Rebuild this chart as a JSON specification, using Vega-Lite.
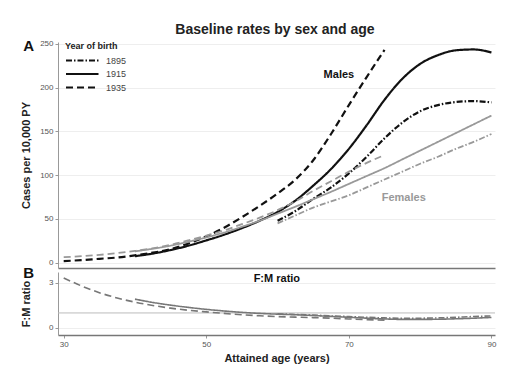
{
  "$schema": "https://vega.github.io/schema/vega-lite/v6.json",
  "padding": {"left": 20, "top": 22, "right": 5, "bottom": 5},
  "background": "white",
  "title": {"text": "Baseline rates by sex and age", "fontSize": 14, "font": "Liberation Sans", "fontWeight": "bold", "color": "#222", "anchor": "middle", "offset": 2, "dx": 17},
  "config": {
    "view": {"stroke": null},
    "font": "Liberation Sans",
    "axis": {"labelFontSize": 8, "labelColor": "#555", "tickColor": "#999", "tickSize": 3, "domainColor": "#999", "titleFontSize": 11, "titleFontWeight": "bold", "titleColor": "#222", "gridColor": "#eee", "labelPadding": 2, "titlePadding": 8, "labelFont": "Liberation Sans", "titleFont": "Liberation Sans"}
  },
  "bounds": "flush",
  "spacing": 4,
  "datasets": {
    "rates": [
      {"sex":"Males","cohort":"1935","age":30,"value":1.9},
      {"sex":"Males","cohort":"1935","age":32.5,"value":3},
      {"sex":"Males","cohort":"1935","age":35,"value":4.5},
      {"sex":"Males","cohort":"1935","age":37.5,"value":6},
      {"sex":"Males","cohort":"1935","age":40,"value":8.5},
      {"sex":"Males","cohort":"1935","age":42.5,"value":11.5},
      {"sex":"Males","cohort":"1935","age":45,"value":15.5},
      {"sex":"Males","cohort":"1935","age":47.5,"value":22},
      {"sex":"Males","cohort":"1935","age":50,"value":30},
      {"sex":"Males","cohort":"1935","age":52.5,"value":40},
      {"sex":"Males","cohort":"1935","age":55,"value":52},
      {"sex":"Males","cohort":"1935","age":57.5,"value":65},
      {"sex":"Males","cohort":"1935","age":60,"value":79},
      {"sex":"Males","cohort":"1935","age":62.5,"value":95},
      {"sex":"Males","cohort":"1935","age":65,"value":117},
      {"sex":"Males","cohort":"1935","age":67.5,"value":147},
      {"sex":"Males","cohort":"1935","age":70,"value":180},
      {"sex":"Males","cohort":"1935","age":72.5,"value":212},
      {"sex":"Males","cohort":"1935","age":75,"value":243},
      {"sex":"Males","cohort":"1915","age":40,"value":7.5},
      {"sex":"Males","cohort":"1915","age":42.5,"value":10.5},
      {"sex":"Males","cohort":"1915","age":45,"value":14.5},
      {"sex":"Males","cohort":"1915","age":47.5,"value":19.5},
      {"sex":"Males","cohort":"1915","age":50,"value":25.5},
      {"sex":"Males","cohort":"1915","age":52.5,"value":32},
      {"sex":"Males","cohort":"1915","age":55,"value":39.5},
      {"sex":"Males","cohort":"1915","age":57.5,"value":48},
      {"sex":"Males","cohort":"1915","age":60,"value":58},
      {"sex":"Males","cohort":"1915","age":62.5,"value":71},
      {"sex":"Males","cohort":"1915","age":65,"value":88},
      {"sex":"Males","cohort":"1915","age":67.5,"value":107},
      {"sex":"Males","cohort":"1915","age":70,"value":130},
      {"sex":"Males","cohort":"1915","age":72.5,"value":157},
      {"sex":"Males","cohort":"1915","age":75,"value":186},
      {"sex":"Males","cohort":"1915","age":77.5,"value":210},
      {"sex":"Males","cohort":"1915","age":80,"value":227},
      {"sex":"Males","cohort":"1915","age":82.5,"value":237},
      {"sex":"Males","cohort":"1915","age":85,"value":242.5},
      {"sex":"Males","cohort":"1915","age":87.5,"value":243.5},
      {"sex":"Males","cohort":"1915","age":90,"value":240},
      {"sex":"Males","cohort":"1895","age":60,"value":48},
      {"sex":"Males","cohort":"1895","age":62.5,"value":59},
      {"sex":"Males","cohort":"1895","age":65,"value":73},
      {"sex":"Males","cohort":"1895","age":67.5,"value":86},
      {"sex":"Males","cohort":"1895","age":70,"value":102},
      {"sex":"Males","cohort":"1895","age":72.5,"value":121},
      {"sex":"Males","cohort":"1895","age":75,"value":142},
      {"sex":"Males","cohort":"1895","age":77.5,"value":160},
      {"sex":"Males","cohort":"1895","age":80,"value":173},
      {"sex":"Males","cohort":"1895","age":82.5,"value":180},
      {"sex":"Males","cohort":"1895","age":85,"value":183.5},
      {"sex":"Males","cohort":"1895","age":87.5,"value":184.5},
      {"sex":"Males","cohort":"1895","age":90,"value":183},
      {"sex":"Females","cohort":"1935","age":30,"value":6.3},
      {"sex":"Females","cohort":"1935","age":32.5,"value":7.5},
      {"sex":"Females","cohort":"1935","age":35,"value":9},
      {"sex":"Females","cohort":"1935","age":37.5,"value":11},
      {"sex":"Females","cohort":"1935","age":40,"value":13.5},
      {"sex":"Females","cohort":"1935","age":42.5,"value":16.5},
      {"sex":"Females","cohort":"1935","age":45,"value":20.5},
      {"sex":"Females","cohort":"1935","age":47.5,"value":25.5},
      {"sex":"Females","cohort":"1935","age":50,"value":31},
      {"sex":"Females","cohort":"1935","age":52.5,"value":37},
      {"sex":"Females","cohort":"1935","age":55,"value":44},
      {"sex":"Females","cohort":"1935","age":57.5,"value":51.5},
      {"sex":"Females","cohort":"1935","age":60,"value":60},
      {"sex":"Females","cohort":"1935","age":62.5,"value":70},
      {"sex":"Females","cohort":"1935","age":65,"value":82},
      {"sex":"Females","cohort":"1935","age":67.5,"value":93},
      {"sex":"Females","cohort":"1935","age":70,"value":104},
      {"sex":"Females","cohort":"1935","age":72.5,"value":114},
      {"sex":"Females","cohort":"1935","age":75,"value":123},
      {"sex":"Females","cohort":"1915","age":40,"value":13},
      {"sex":"Females","cohort":"1915","age":42.5,"value":16},
      {"sex":"Females","cohort":"1915","age":45,"value":19.5},
      {"sex":"Females","cohort":"1915","age":47.5,"value":24},
      {"sex":"Females","cohort":"1915","age":50,"value":29},
      {"sex":"Females","cohort":"1915","age":52.5,"value":34.5},
      {"sex":"Females","cohort":"1915","age":55,"value":41},
      {"sex":"Females","cohort":"1915","age":57.5,"value":48},
      {"sex":"Females","cohort":"1915","age":60,"value":56},
      {"sex":"Females","cohort":"1915","age":62.5,"value":64},
      {"sex":"Females","cohort":"1915","age":65,"value":72.5},
      {"sex":"Females","cohort":"1915","age":67.5,"value":81},
      {"sex":"Females","cohort":"1915","age":70,"value":90},
      {"sex":"Females","cohort":"1915","age":72.5,"value":99},
      {"sex":"Females","cohort":"1915","age":75,"value":108},
      {"sex":"Females","cohort":"1915","age":77.5,"value":118},
      {"sex":"Females","cohort":"1915","age":80,"value":128},
      {"sex":"Females","cohort":"1915","age":82.5,"value":138},
      {"sex":"Females","cohort":"1915","age":85,"value":148},
      {"sex":"Females","cohort":"1915","age":87.5,"value":158},
      {"sex":"Females","cohort":"1915","age":90,"value":168},
      {"sex":"Females","cohort":"1895","age":60,"value":45},
      {"sex":"Females","cohort":"1895","age":62.5,"value":54},
      {"sex":"Females","cohort":"1895","age":65,"value":63},
      {"sex":"Females","cohort":"1895","age":67.5,"value":70},
      {"sex":"Females","cohort":"1895","age":70,"value":77},
      {"sex":"Females","cohort":"1895","age":72.5,"value":86},
      {"sex":"Females","cohort":"1895","age":75,"value":95},
      {"sex":"Females","cohort":"1895","age":77.5,"value":104},
      {"sex":"Females","cohort":"1895","age":80,"value":113},
      {"sex":"Females","cohort":"1895","age":82.5,"value":121},
      {"sex":"Females","cohort":"1895","age":85,"value":130},
      {"sex":"Females","cohort":"1895","age":87.5,"value":138},
      {"sex":"Females","cohort":"1895","age":90,"value":147}
    ],
    "ratio": [
      {"cohort":"1935","age":30,"value":3.33},
      {"cohort":"1935","age":32.5,"value":2.8},
      {"cohort":"1935","age":35,"value":2.35},
      {"cohort":"1935","age":37.5,"value":2.0},
      {"cohort":"1935","age":40,"value":1.72},
      {"cohort":"1935","age":42.5,"value":1.5},
      {"cohort":"1935","age":45,"value":1.32},
      {"cohort":"1935","age":47.5,"value":1.18},
      {"cohort":"1935","age":50,"value":1.07},
      {"cohort":"1935","age":52.5,"value":0.97},
      {"cohort":"1935","age":55,"value":0.88},
      {"cohort":"1935","age":57.5,"value":0.81},
      {"cohort":"1935","age":60,"value":0.76},
      {"cohort":"1935","age":62.5,"value":0.72},
      {"cohort":"1935","age":65,"value":0.69},
      {"cohort":"1935","age":67.5,"value":0.65},
      {"cohort":"1935","age":70,"value":0.6},
      {"cohort":"1935","age":72.5,"value":0.55},
      {"cohort":"1935","age":75,"value":0.52},
      {"cohort":"1915","age":40,"value":1.92},
      {"cohort":"1915","age":42.5,"value":1.7},
      {"cohort":"1915","age":45,"value":1.52},
      {"cohort":"1915","age":47.5,"value":1.37},
      {"cohort":"1915","age":50,"value":1.24},
      {"cohort":"1915","age":52.5,"value":1.13},
      {"cohort":"1915","age":55,"value":1.04},
      {"cohort":"1915","age":57.5,"value":0.97},
      {"cohort":"1915","age":60,"value":0.92},
      {"cohort":"1915","age":62.5,"value":0.88},
      {"cohort":"1915","age":65,"value":0.83},
      {"cohort":"1915","age":67.5,"value":0.77},
      {"cohort":"1915","age":70,"value":0.71},
      {"cohort":"1915","age":72.5,"value":0.65},
      {"cohort":"1915","age":75,"value":0.6},
      {"cohort":"1915","age":77.5,"value":0.57},
      {"cohort":"1915","age":80,"value":0.57},
      {"cohort":"1915","age":82.5,"value":0.58},
      {"cohort":"1915","age":85,"value":0.61},
      {"cohort":"1915","age":87.5,"value":0.65},
      {"cohort":"1915","age":90,"value":0.7},
      {"cohort":"1895","age":60,"value":0.94},
      {"cohort":"1895","age":62.5,"value":0.9},
      {"cohort":"1895","age":65,"value":0.86},
      {"cohort":"1895","age":67.5,"value":0.8},
      {"cohort":"1895","age":70,"value":0.76},
      {"cohort":"1895","age":72.5,"value":0.71},
      {"cohort":"1895","age":75,"value":0.67},
      {"cohort":"1895","age":77.5,"value":0.65},
      {"cohort":"1895","age":80,"value":0.65},
      {"cohort":"1895","age":82.5,"value":0.67},
      {"cohort":"1895","age":85,"value":0.71},
      {"cohort":"1895","age":87.5,"value":0.76},
      {"cohort":"1895","age":90,"value":0.8}
    ],
    "sexlabels": [
      {"label":"Males","sex":"Males","age":68.6,"value":214},
      {"label":"Females","sex":"Females","age":77.7,"value":74}
    ],
    "panelA": [{"label":"A","age":25.1,"value":248}],
    "panelB": [{"label":"B","age":25.1,"value":3.65},{"label":"F:M ratio","age":59.9,"value":3.27}],
    "ref": [{"ref":1}]
  },
  "vconcat": [
    {
      "width": 437,
      "height": 226,
      "layer": [
        {
          "data": {"name": "rates"},
          "mark": {"type": "line", "interpolate": "monotone"},
          "encoding": {
            "x": {"field": "age", "type": "quantitative", "scale": {"domain": [29.2, 90.5], "nice": false, "zero": false}, "axis": {"labels": false, "ticks": false, "grid": false, "title": null, "domainColor": "#777", "domainWidth": 1.5, "minExtent": 0, "maxExtent": 0}},
            "y": {"field": "value", "type": "quantitative", "scale": {"domain": [-6, 252], "nice": false}, "axis": {"values": [0, 50, 100, 150, 200, 250], "title": "Cases per 10,000 PY", "grid": true, "titleX": -27}},
            "color": {"field": "sex", "type": "nominal", "scale": {"domain": ["Males", "Females"], "range": ["#111", "#999"]}, "legend": null},
            "strokeWidth": {"field": "sex", "type": "nominal", "scale": {"domain": ["Males", "Females"], "range": [2.2, 1.8]}, "legend": null},
            "strokeDash": {"field": "cohort", "type": "nominal", "scale": {"domain": ["1895", "1915", "1935"], "range": [[6, 2, 1.5, 2], [1, 0], [7, 4]]},
              "legend": {"title": "Year of birth", "orient": "none", "legendX": 7, "legendY": 0, "symbolType": "M-1,0H4", "symbolSize": 169, "symbolStrokeWidth": 2, "symbolStrokeColor": "#111", "symbolFillColor": "transparent", "titleFontSize": 9, "titleFontWeight": "bold", "titleColor": "#222", "labelFontSize": 9, "labelColor": "#444", "rowPadding": 0.5, "titlePadding": 2, "labelOffset": 26}},
            "detail": {"field": "sex"}
          }
        },
        {
          "data": {"name": "sexlabels"},
          "mark": {"type": "text", "fontWeight": "bold", "fontSize": 11},
          "encoding": {
            "x": {"field": "age", "type": "quantitative"},
            "y": {"field": "value", "type": "quantitative"},
            "text": {"field": "label"},
            "color": {"field": "sex", "type": "nominal", "legend": null}
          }
        },
        {
          "data": {"name": "panelA"},
          "mark": {"type": "text", "fontWeight": "bold", "fontSize": 15, "color": "#111"},
          "encoding": {
            "x": {"field": "age", "type": "quantitative"},
            "y": {"field": "value", "type": "quantitative"},
            "text": {"field": "label"}
          }
        }
      ]
    },
    {
      "width": 437,
      "height": 63,
      "layer": [
        {
          "data": {"name": "ref"},
          "mark": {"type": "rule", "color": "#bbb", "strokeWidth": 1},
          "encoding": {"y": {"field": "ref", "type": "quantitative"}}
        },
        {
          "data": {"name": "ratio"},
          "mark": {"type": "line", "interpolate": "monotone", "color": "#777", "strokeWidth": 1.6},
          "encoding": {
            "x": {"field": "age", "type": "quantitative", "scale": {"domain": [29.2, 90.5], "nice": false, "zero": false}, "axis": {"values": [30, 50, 70, 90], "title": "Attained age (years)", "grid": false, "domainColor": "#777", "domainWidth": 1.5, "titlePadding": 4}},
            "y": {"field": "value", "type": "quantitative", "scale": {"domain": [-0.47, 3.73], "nice": false}, "axis": {"values": [0, 1, 2, 3], "title": "F:M ratio", "grid": true, "titleX": -27}},
            "strokeDash": {"field": "cohort", "type": "nominal", "scale": {"domain": ["1895", "1915", "1935"], "range": [[6, 2, 1.5, 2], [1, 0], [7, 4]]}, "legend": null}
          }
        },
        {
          "data": {"name": "panelB"},
          "mark": {"type": "text", "fontWeight": "bold", "color": "#111"},
          "encoding": {
            "x": {"field": "age", "type": "quantitative"},
            "y": {"field": "value", "type": "quantitative"},
            "text": {"field": "label"},
            "size": {"field": "label", "type": "nominal", "scale": {"domain": ["B", "F:M ratio"], "range": [15, 11]}, "legend": null}
          }
        }
      ]
    }
  ]
}
